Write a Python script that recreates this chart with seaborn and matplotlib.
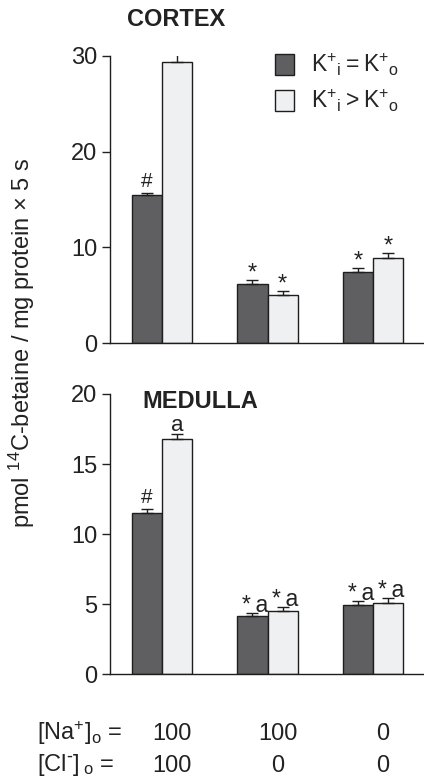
import matplotlib
matplotlib.use("Agg")
import matplotlib.pyplot as plt
import seaborn as sns
import pandas as pd
import numpy as np

# ---- data ----
groups = ["A", "B", "C"]
series = [r"$K^{+}{}_{i} = K^{+}{}_{o}$", r"$K^{+}{}_{i} > K^{+}{}_{o}$"]
cortex_eq = [15.5, 6.15, 7.4]
cortex_gt = [29.3, 5.05, 8.9]
cortex_eq_err = [0.15, 0.45, 0.45]
cortex_gt_err = [1.0, 0.45, 0.5]
medulla_eq = [11.5, 4.15, 4.95]
medulla_gt = [16.8, 4.55, 5.12]
medulla_eq_err = [0.3, 0.25, 0.25]
medulla_gt_err = [0.33, 0.25, 0.3]
cortex_marks_eq = ["#", "*", "*"]
cortex_marks_gt = ["", "*", "*"]
medulla_marks_eq = ["#", "*a", "*a"]
medulla_marks_gt = ["a", "*a", "*a"]
na_labels = ["100", "100", "0"]
cl_labels = ["100", "0", "0"]
cortex_ticks = [0, 10, 20, 30]
medulla_ticks = [0, 5, 10, 15, 20]

sns.set_style("ticks")
plt.rcParams["font.family"] = ["Liberation Sans", "DejaVu Sans"]
plt.rcParams["mathtext.default"] = "regular"

dark = "#5f5f62"
light = "#eff0f2"
edge = "#1e1e1e"
txt = "#222222"
FS = 17
PX = 0.72  # points per pixel at 100 dpi

fig = plt.figure(figsize=(4.24, 7.80), dpi=100)
W, H = 424, 780
left = 110 / W
width = 1.0 - left
ax1 = fig.add_axes([left, 1 - 343.3 / H, width, (343.3 - 55.7) / H])
ax2 = fig.add_axes([left, 1 - 674.3 / H, width, (674.3 - 394.0) / H])

# mark style: (fontsize, dx px, dy px of baseline above error top)
mark_style = {
    "#": (15, 0, 6),
    "*": (17, 0, 0.5),
    "a": (16, 0, 3.5),
    "*a": (16.5, 3, 1.0),
}


def panel(ax, eq, gt, eq_err, gt_err, m_eq, m_gt, ymax, ticks, legend):
    df = pd.DataFrame({
        "group": groups * 2,
        "value": list(eq) + list(gt),
        "series": [series[0]] * 3 + [series[1]] * 3,
    })
    sns.barplot(data=df, x="group", y="value", hue="series", order=groups,
                hue_order=series, palette=[dark, light], errorbar=None,
                width=0.57, edgecolor=edge, linewidth=1.0, ax=ax,
                legend=legend, saturation=1)
    errs = list(eq_err) + list(gt_err)
    marks = list(m_eq) + list(m_gt)
    vals = list(eq) + list(gt)
    bars = [p for p in ax.patches if p.get_height() > 0][:6]
    for p, v, e, m in zip(bars, vals, errs, marks):
        xc = p.get_x() + p.get_width() / 2
        ax.errorbar([xc], [v], yerr=[[0], [e]], fmt="none", ecolor=edge,
                    elinewidth=1.0, capsize=4, capthick=1.0, zorder=3)
        if not m:
            continue
        fs, dx, dy = mark_style[m]
        label = "*\u2009a" if m == "*a" else m
        ax.annotate(label, (xc, v + e), xytext=(dx * PX, dy * PX),
                    textcoords="offset points", ha="center", va="baseline",
                    fontsize=fs, color=txt)
    ax.set_xlim(-0.493, 2.483)
    ax.set_ylim(0, ymax)
    ax.set_yticks(ticks)
    ax.set_xticks([])
    ax.set_xlabel("")
    ax.set_ylabel("")
    ax.tick_params(axis="y", labelsize=FS, length=6, width=1.0, pad=3,
                   colors=txt, labelcolor=txt)
    for s in ["top", "right"]:
        ax.spines[s].set_visible(False)
    for s in ["left", "bottom"]:
        ax.spines[s].set_linewidth(1.0)
        ax.spines[s].set_color(edge)


panel(ax1, cortex_eq, cortex_gt, cortex_eq_err, cortex_gt_err,
      cortex_marks_eq, cortex_marks_gt, 30, cortex_ticks, True)
panel(ax2, medulla_eq, medulla_gt, medulla_eq_err, medulla_gt_err,
      medulla_marks_eq, medulla_marks_gt, 20, medulla_ticks, False)

sns.move_legend(ax1, "upper left", bbox_to_anchor=(0.527, 1.016),
                frameon=False, title=None, fontsize=FS - 0.5,
                handlelength=0.8, handleheight=1.05, handletextpad=0.75,
                labelspacing=0.4, borderpad=0, borderaxespad=0)

fig.text(176 / W, 1 - 20 / H, "CORTEX", ha="center", va="center",
         fontsize=FS, fontweight="bold", color=txt)
ax2.text(0.102, 0.975, "MEDULLA", transform=ax2.transAxes,
         ha="left", va="center", fontsize=FS, fontweight="bold", color=txt)

fig.text(22 / W, 1 - 343 / H,
         r"pmol $^{14}$C-betaine / mg protein × 5 s",
         rotation=90, ha="center", va="center", fontsize=FS, color=txt)

# bottom condition labels
trans = matplotlib.transforms.blended_transform_factory(ax2.transData, fig.transFigure)
for i, (na, cl) in enumerate(zip(na_labels, cl_labels)):
    ax2.text(i + 0.095, 1 - 740 / H, na, transform=trans, ha="center",
             va="baseline", fontsize=FS, color=txt)
    ax2.text(i + 0.095, 1 - 771.5 / H, cl, transform=trans, ha="center",
             va="baseline", fontsize=FS, color=txt)
fig.text(37 / W, 1 - 740 / H, r"$[Na^{+}]_{o}$ =", ha="left", va="baseline",
         fontsize=FS, color=txt)
fig.text(37 / W, 1 - 771.5 / H, r"$[Cl^{\text{-}}]\,_{o}$ =", ha="left",
         va="baseline", fontsize=FS, color=txt)

fig.savefig("out.png", dpi=100)
